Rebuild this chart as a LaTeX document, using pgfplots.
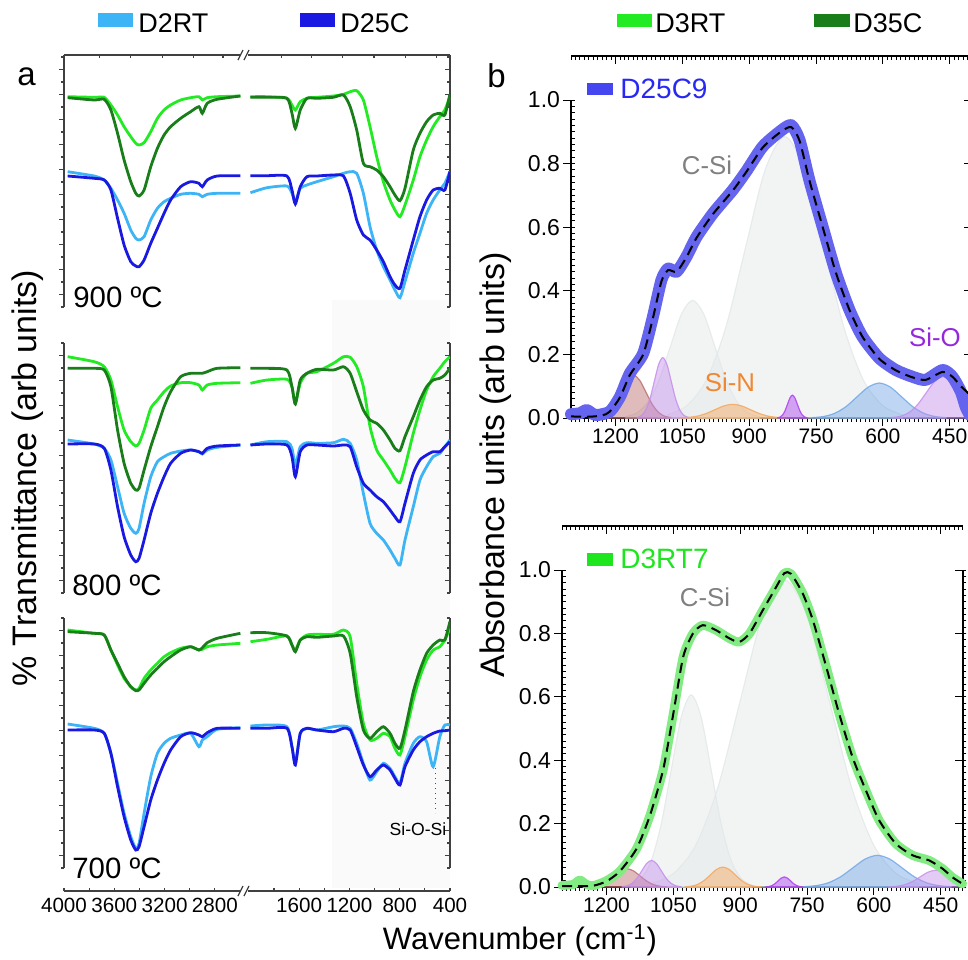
\documentclass[border=0pt]{standalone}
\usepackage{fontspec}
\setmainfont{Liberation Sans}
\usepackage{pgfplots}
\usepackage{pgfplotstable}
\pgfplotsset{compat=1.18}
\pgfplotsset{/pgf/number format/assume math mode=true, /pgf/number format/1000 sep={}}

\definecolor{cD2RT}{RGB}{60,180,245}
\definecolor{cD25C}{RGB}{25,25,225}
\definecolor{cD3RT}{RGB}{35,235,35}
\definecolor{cD35C}{RGB}{25,125,25}
\definecolor{cBandA}{RGB}{100,100,238}
\definecolor{cBandB}{RGB}{130,235,130}
\definecolor{cLegA}{RGB}{70,70,240}
\definecolor{cTxtA}{RGB}{40,40,245}
\definecolor{cLegB}{RGB}{30,230,30}
\definecolor{cBrown}{RGB}{185,105,105}
\definecolor{cPurp}{RGB}{195,140,235}
\definecolor{cGrayC}{RGB}{226,231,231}
\definecolor{cOrange}{RGB}{245,165,90}
\definecolor{cViolet}{RGB}{170,60,240}
\definecolor{cBlueC}{RGB}{110,165,230}
\definecolor{cLabOr}{RGB}{240,135,50}
\definecolor{cLabPu}{RGB}{150,40,220}

\newcommand{\tickfont}{\fontsize{10.5}{12}\selectfont}
\newcommand{\ytickfont}{\fontsize{11.5}{13}\selectfont}
\newcommand{\atickfont}{\fontsize{10.3}{12}\selectfont}
\newcommand{\bx}{\thisrow{x}>2300 ? 4000-\thisrow{x} : 3470-\thisrow{x}}

\pgfplotstableread{
x d2rt d25c d3rt d35c
3971 135.3 131.0 210.3 209.3
3760 131.0 128.7 209.7 207.0
3680 127.0 127.0 209.7 207.7
3627 118.7 117.0 202.0 197.0
3574 107.0 88.7 192.0 173.7
3522 93.7 62.0 180.3 147.0
3469 77.0 45.3 170.3 125.3
3429 68.7 41.0 163.7 113.7
3403 67.0 40.3 162.0 111.0
3363 70.3 47.0 164.3 117.0
3310 87.0 63.7 175.3 140.3
3257 98.7 78.7 188.7 158.7
3204 105.3 93.7 197.0 172.0
3152 108.7 107.0 202.0 180.3
3072 112.7 120.3 207.0 188.7
2993 113.7 125.3 209.3 195.3
2927 112.7 123.7 210.3 200.3
2900 110.3 120.3 207.0 193.7
2861 112.7 127.0 209.3 203.7
2782 113.7 131.0 210.3 207.7
2597 113.7 131.3 211.0 211.0
2300 nan nan nan nan
1987 114.3 131.3 210.3 209.7
1855 119.3 131.3 210.3 209.7
1697 121.0 131.0 208.7 208.7
1657 113.7 117.0 202.0 193.7
1630 105.3 103.0 197.0 178.7
1591 118.7 120.3 205.3 197.0
1538 122.0 130.3 208.7 208.7
1459 125.3 131.0 209.7 208.7
1327 130.3 132.0 211.0 209.7
1247 133.7 131.0 212.7 212.0
1194 135.3 113.7 215.3 200.3
1142 133.7 87.0 216.3 177.0
1089 113.7 72.0 207.0 143.7
1036 80.3 67.0 180.3 140.3
983 57.0 57.0 150.3 137.0
930 40.3 45.3 125.3 130.3
877 27.0 30.3 107.0 120.3
838 17.0 22.0 97.0 112.0
798 9.3 18.7 90.3 106.3
758 25.3 37.0 102.0 118.7
692 53.7 67.0 127.0 157.0
639 73.7 90.3 150.3 173.7
586 93.7 107.0 167.0 185.3
534 107.0 117.0 180.3 192.0
481 117.0 118.7 190.3 193.7
441 123.7 117.0 197.0 192.0
401 135.3 135.3 210.3 212.7
}\tNine

\pgfplotstableread{
x d2rt d25c d3rt d35c
3971 153.0 149.0 236.3 224.7
3760 149.0 149.0 231.3 224.7
3680 144.7 144.7 226.3 223.0
3627 133.0 123.0 213.0 206.3
3574 106.3 86.3 186.3 163.0
3522 79.7 56.3 163.0 129.7
3469 64.7 38.0 151.3 109.7
3429 59.7 31.3 147.0 103.0
3403 64.7 34.7 149.7 104.7
3363 89.7 53.0 163.0 123.0
3310 116.3 79.7 184.7 146.3
3257 131.3 99.7 193.0 166.3
3204 136.3 116.3 201.3 186.3
3152 139.7 129.7 207.0 201.3
3072 142.0 139.7 210.3 216.3
2993 143.0 143.0 210.3 219.7
2927 141.3 141.3 208.0 219.7
2900 139.0 139.7 203.0 219.7
2861 143.0 144.7 208.0 221.3
2782 145.7 147.0 209.7 224.7
2597 148.0 148.0 210.3 225.3
2300 nan nan nan nan
1987 148.0 148.0 209.7 224.7
1855 151.3 149.0 213.0 224.7
1697 151.3 148.0 213.7 223.0
1657 144.7 136.3 206.3 206.3
1630 128.0 116.3 189.7 189.0
1591 146.3 141.3 209.7 213.0
1538 150.3 148.0 219.7 219.7
1459 149.7 148.0 221.3 223.7
1327 150.3 147.0 229.7 223.0
1247 153.7 148.0 236.3 226.3
1194 149.7 146.3 235.7 219.7
1142 133.0 126.3 226.3 201.3
1089 99.7 109.7 206.3 183.0
1036 69.7 103.0 166.3 173.0
983 59.7 96.3 143.0 169.7
930 53.0 91.3 133.0 163.0
877 43.0 83.0 123.0 153.0
838 34.7 76.3 114.7 144.7
798 28.0 71.3 110.3 142.3
758 53.0 89.7 126.3 156.3
692 86.3 119.7 159.7 176.3
639 113.0 133.0 183.0 193.0
586 126.3 138.0 203.0 206.3
534 136.3 141.3 216.3 213.0
481 139.7 141.3 224.7 214.7
441 146.3 146.3 231.3 218.0
401 153.0 151.3 236.3 224.7
}\tEight

\pgfplotstableread{
x d2rt d25c d3rt d35c
3971 144.0 138.0 238.0 236.3
3760 139.7 138.0 234.7 234.7
3680 134.7 134.7 233.0 233.0
3627 114.7 114.7 218.0 218.0
3574 84.7 81.3 203.0 204.7
3522 54.7 51.3 189.7 191.3
3469 31.3 28.0 181.3 181.3
3429 19.7 18.0 178.0 177.3
3403 24.7 21.3 179.7 178.0
3363 54.7 41.3 189.7 184.7
3310 91.3 68.0 198.0 193.0
3257 114.7 88.0 204.7 199.7
3204 124.7 104.7 211.3 206.3
3152 129.7 118.0 215.3 211.3
3072 133.0 131.3 219.7 218.0
2993 134.7 135.3 221.3 221.3
2927 121.3 133.0 218.0 218.0
2900 128.0 131.3 218.7 220.3
2861 131.3 135.3 221.3 225.3
2782 138.7 139.7 223.0 229.7
2597 140.3 139.7 224.7 234.7
2300 nan nan nan nan
1987 142.0 139.7 226.3 235.3
1855 143.0 139.7 228.7 235.3
1697 141.3 139.7 232.0 232.0
1657 121.3 121.3 223.0 223.0
1630 104.7 103.0 218.0 216.3
1591 134.7 134.7 228.0 228.0
1538 139.7 139.7 233.0 231.3
1459 138.0 138.0 233.7 230.7
1327 141.3 136.3 233.7 232.0
1247 142.0 139.7 238.0 232.0
1194 139.7 138.0 231.3 214.7
1142 124.7 121.3 184.7 171.3
1089 104.7 103.0 144.7 138.0
1036 88.0 91.3 128.0 129.7
983 96.3 98.0 129.7 136.3
930 104.7 103.0 134.7 141.3
877 99.7 98.0 131.3 134.7
838 91.3 89.7 119.7 124.7
798 84.7 83.0 113.0 119.7
758 104.7 101.3 131.3 138.0
692 124.7 118.0 168.0 176.3
639 131.3 126.3 191.3 198.0
586 126.3 131.3 208.0 214.7
534 101.3 134.7 218.0 223.0
481 131.3 137.0 221.3 228.0
441 143.0 137.3 228.0 228.0
401 143.0 138.0 239.7 246.3
}\tSeven

\pgfplotsset{
  pa/.style={
    scale only axis, width=193pt, height=125pt,
    xmin=0, xmax=3070, ymin=0, ymax=250,
    axis x line=none, axis y line*=box,
    ytick={12.5,37.5,62.5,87.5,112.5,137.5,162.5,187.5,212.5,237.5},
    minor ytick={0,25,50,75,100,125,150,175,200,225,250},
    yticklabels={},
    tick align=center, major tick length=2.5pt, minor tick length=1.5pt,
    major y tick style={xshift=-1.25pt}, minor y tick style={xshift=-0.75pt},
    axis line style={black!75, line width=0.6pt},
    every tick/.append style={black!75, line width=0.6pt},
    unbounded coords=jump,
  },
  sr/.style={line width=1.4pt, smooth, tension=0.4},
  pb/.style={
    scale only axis, width=200.5pt, height=159pt,
    xmin=400, xmax=1300, x dir=reverse, ymin=0, ymax=1,
    axis x line*=bottom, axis y line*=box,
    xtick={450,600,750,900,1050,1200}, minor xtick={400,410,...,1300},
    ytick={0,0.2,0.4,0.6,0.8,1}, minor ytick={0,0.02,...,1.001},
    tick align=center, major tick length=4pt, minor tick length=1.75pt,
    major x tick style={yshift=-2pt}, minor x tick style={yshift=-0.875pt},
    major y tick style={xshift=-2pt}, minor y tick style={xshift=0.875pt},
    xticklabel style={font=\tickfont},
    yticklabel style={font=\ytickfont, /pgf/number format/.cd, fixed, fixed zerofill, precision=1},
    axis line style={black, line width=0.6pt},
    every tick/.append style={black, line width=0.5pt},
    clip=false,
  },
  pbt/.style={
    scale only axis, width=200.5pt, height=3pt,
    xmin=400, xmax=1300, x dir=reverse, ymin=0, ymax=1,
    axis x line*=top, axis y line=none,
    xtick={450,600,750,900,1050,1200}, minor xtick={400,410,...,1300},
    xticklabels={}, tick align=inside, major tick length=4pt, minor tick length=1.75pt,
    axis line style={black, line width=0.6pt},
    every tick/.append style={black, line width=0.5pt},
  },
  comp/.style={smooth, fill=#1, fill opacity=0.45, draw=#1, draw opacity=0.8, line width=0.6pt},
}

\begin{document}
\begin{tikzpicture}
\useasboundingbox (0,0) rectangle (484pt,-479.5pt);
\clip (0,0) rectangle (484pt,-479.5pt);
\begin{scope}[x=0.5pt,y=-0.5pt]
\fill[black!2] (332,300) rectangle (450,888);
\end{scope}

% ---------------- panel a ----------------
\begin{axis}[pa, at={(32pt,-153.5pt)}, anchor=south west, height=126pt, ymax=252]
\addplot[sr, cD2RT] table[x expr=\bx, y=d2rt] {\tNine};
\addplot[sr, cD25C] table[x expr=\bx, y=d25c] {\tNine};
\addplot[sr, cD3RT] table[x expr=\bx, y=d3rt] {\tNine};
\addplot[sr, cD35C] table[x expr=\bx, y=d35c] {\tNine};
\end{axis}
\begin{axis}[pa, at={(32pt,-296.5pt)}, anchor=south west]
\addplot[sr, cD2RT] table[x expr=\bx, y=d2rt] {\tEight};
\addplot[sr, cD25C] table[x expr=\bx, y=d25c] {\tEight};
\addplot[sr, cD3RT] table[x expr=\bx, y=d3rt] {\tEight};
\addplot[sr, cD35C] table[x expr=\bx, y=d35c] {\tEight};
\end{axis}
\begin{axis}[pa, at={(32pt,-434pt)}, anchor=south west]
\addplot[sr, cD2RT] table[x expr=\bx, y=d2rt] {\tSeven};
\addplot[sr, cD25C] table[x expr=\bx, y=d25c] {\tSeven};
\addplot[sr, cD3RT] table[x expr=\bx, y=d3rt] {\tSeven};
\addplot[sr, cD35C] table[x expr=\bx, y=d35c] {\tSeven};
\end{axis}
% top line of panel a
\begin{axis}[scale only axis, width=193pt, height=3pt, at={(32pt,-27.5pt)}, anchor=north west,
  xmin=0, xmax=3070, ymin=0, ymax=1, axis x line*=top, axis y line=none,
  xtick={285,530,783,1028,1265,1731,1968,2213,2466,2719,2964}, xticklabels={},
  tick align=inside, major tick length=1.5pt,
  axis line style={black!75, line width=0.6pt}, every tick/.append style={black!75, line width=0.6pt}]
\end{axis}
% bottom axis of panel a
\begin{axis}[scale only axis, width=193pt, height=3pt, at={(32pt,-445.5pt)}, anchor=south west,
  xmin=0, xmax=3070, ymin=0, ymax=1, axis x line*=bottom, axis y line=none,
  xtick={0,400,800,1200,1870,2270,2670,3070},
  xticklabels={4000,3600,3200,2800,1600,1200,800,400},
  minor xtick={200,600,1000,1670,2070,2470,2870},
  tick align=inside, major tick length=1.6pt, minor tick length=1.6pt,
  tick label style={font=\atickfont, inner xsep=0pt},
  axis line style={black!75, line width=0.6pt}, every tick/.append style={black!75, line width=0.6pt}]
\end{axis}

% ---------------- panel b top ----------------
\begin{axis}[pb, at={(285.5pt,-209pt)}, anchor=south west]
\addplot[comp=cGrayC] coordinates {(556,0.0098)(600,0.0389)(644,0.1197)(688,0.2874)(732,0.5368)(776,0.781)(820,0.885)(864,0.781)(908,0.5368)(952,0.2874)(996,0.1197)(1040,0.0389)(1084,0.0098)} \closedcycle;
\addplot[comp=cGrayC] coordinates {(877,0.0041)(902,0.0162)(927,0.0501)(952,0.1201)(977,0.2244)(1002,0.3265)(1027,0.37)(1052,0.3265)(1077,0.2244)(1102,0.1201)(1127,0.0501)(1152,0.0162)(1177,0.0041)} \closedcycle;
\addplot[comp=cBrown] coordinates {(1076,0.0015)(1090,0.0059)(1104,0.0183)(1118,0.0438)(1132,0.0819)(1146,0.1191)(1160,0.135)(1174,0.1191)(1188,0.0819)(1202,0.0438)(1216,0.0183)(1230,0.0059)(1244,0.0015)} \closedcycle;
\addplot[comp=cPurp] coordinates {(1037,0.0021)(1046.5,0.0083)(1056,0.0257)(1065.5,0.0617)(1075,0.1152)(1084.5,0.1677)(1094,0.19)(1103.5,0.1677)(1113,0.1152)(1122.5,0.0617)(1132,0.0257)(1141.5,0.0083)(1151,0.0021)} \closedcycle;
\addplot[comp=cOrange] coordinates {(817,0.0005)(837,0.0019)(857,0.0058)(877,0.014)(897,0.0261)(917,0.0379)(937,0.043)(957,0.0379)(977,0.0261)(997,0.014)(1017,0.0058)(1037,0.0019)(1057,0.0005)} \closedcycle;
\addplot[comp=cViolet] coordinates {(770,0.0008)(775.5,0.0032)(781,0.0097)(786.5,0.0234)(792,0.0437)(797.5,0.0635)(803,0.072)(808.5,0.0635)(814,0.0437)(819.5,0.0234)(825,0.0097)(830.5,0.0032)(836,0.0008)} \closedcycle;
\addplot[comp=cBlueC] coordinates {(458,0.0012)(483,0.0048)(508,0.0149)(533,0.0357)(558,0.0667)(583,0.0971)(608,0.11)(633,0.0971)(658,0.0667)(683,0.0357)(708,0.0149)(733,0.0048)(758,0.0012)} \closedcycle;
\addplot[comp=cPurp] coordinates {(400,0.030)(408,0.0422)(427,0.0788)(446,0.1147)(465,0.13)(484,0.1147)(503,0.0788)(522,0.0422)(541,0.0176)(560,0.0057)(579,0.0014)} \closedcycle;
\addplot[cBandA, line width=6pt, smooth, tension=0.4, line join=round, line cap=round] coordinates {
(1300,0.012)(1280,0.015)(1265,0.025)(1250,0.012)(1242,0.009)(1213,0.02)(1190,0.067)(1168,0.14)(1138,0.203)(1116,0.319)(1097,0.434)(1082,0.47)(1063,0.46)(1041,0.507)(1018,0.57)(981,0.644)(937,0.717)(907,0.775)(870,0.853)(832,0.90)(806,0.921)(787,0.874)(765,0.748)(735,0.60)(705,0.455)(675,0.34)(646,0.256)(608,0.188)(571,0.151)(534,0.13)(504,0.12)(466,0.151)(444,0.13)(425,0.083)(414,0.035)(405,0.01)};
\addplot[black, line width=1pt, dash pattern=on 5pt off 3pt, smooth, tension=0.4] coordinates {
(1300,0.005)(1260,0.004)(1230,0.008)(1213,0.02)(1190,0.065)(1168,0.135)(1138,0.2)(1116,0.315)(1097,0.43)(1082,0.465)(1063,0.46)(1041,0.505)(1018,0.567)(981,0.642)(937,0.715)(907,0.773)(870,0.85)(832,0.897)(806,0.915)(787,0.872)(765,0.748)(735,0.6)(705,0.455)(675,0.34)(646,0.256)(608,0.186)(571,0.15)(534,0.128)(504,0.12)(466,0.145)(444,0.13)(425,0.1)(410,0.08)(400,0.06)};
\end{axis}
\begin{axis}[pbt, at={(285.5pt,-28pt)}, anchor=north west]
\end{axis}

% ---------------- panel b bottom ----------------
\begin{axis}[pb, at={(281pt,-443.5pt)}, anchor=south west, height=158.5pt]
\addplot[comp=cGrayC] coordinates {(500,0.0107)(550,0.0425)(600,0.131)(650,0.3143)(700,0.5871)(750,0.8543)(800,0.968)(850,0.8543)(900,0.5871)(950,0.3143)(1000,0.131)(1050,0.0425)(1100,0.0107)} \closedcycle;
\addplot[comp=cGrayC] coordinates {(875,0.0067)(897.5,0.0266)(920,0.082)(942.5,0.1968)(965,0.3675)(987.5,0.5348)(1010,0.606)(1032.5,0.5348)(1055,0.3675)(1077.5,0.1968)(1100,0.082)(1122.5,0.0266)(1145,0.0067)} \closedcycle;
\addplot[comp=cBrown] coordinates {(1065,0.0006)(1080,0.0025)(1095,0.0078)(1110,0.0188)(1125,0.0352)(1140,0.0512)(1155,0.058)(1170,0.0512)(1185,0.0352)(1200,0.0188)(1215,0.0078)(1230,0.0025)(1245,0.0006)} \closedcycle;
\addplot[comp=cPurp] coordinates {(1033,0.0009)(1044,0.0037)(1055,0.0114)(1066,0.0273)(1077,0.0509)(1088,0.0741)(1099,0.084)(1110,0.0741)(1121,0.0509)(1132,0.0273)(1143,0.0114)(1154,0.0037)(1165,0.0009)} \closedcycle;
\addplot[comp=cOrange] coordinates {(855,0.0007)(869,0.0028)(883,0.0085)(897,0.0205)(911,0.0382)(925,0.0556)(939,0.063)(953,0.0556)(967,0.0382)(981,0.0205)(995,0.0085)(1009,0.0028)(1023,0.0007)} \closedcycle;
\addplot[comp=cViolet] coordinates {(759,0.0004)(766,0.0014)(773,0.0043)(780,0.0104)(787,0.0194)(794,0.0282)(801,0.032)(808,0.0282)(815,0.0194)(822,0.0104)(829,0.0043)(836,0.0014)(843,0.0004)} \closedcycle;
\addplot[comp=cBlueC] coordinates {(427,0.0011)(454.5,0.0044)(482,0.0135)(509.5,0.0325)(537,0.0607)(564.5,0.0883)(592,0.1)(619.5,0.0883)(647,0.0607)(674.5,0.0325)(702,0.0135)(729.5,0.0044)(757,0.0011)} \closedcycle;
\addplot[comp=cPurp] coordinates {(400,0.0117)(408.5,0.0172)(426,0.0321)(443.5,0.0468)(461,0.053)(478.5,0.0468)(496,0.0321)(513.5,0.0172)(531,0.0072)(548.5,0.0023)(566,0.0006)} \closedcycle;
\addplot[cBandB, line width=4.5pt, smooth, tension=0.4, line join=round, line cap=round] coordinates {
(1300,0.005)(1275,0.008)(1260,0.022)(1245,0.008)(1230,0.004)(1200,0.02)(1170,0.05)(1133,0.12)(1103,0.224)(1073,0.37)(1051,0.54)(1028,0.726)(1006,0.8)(984,0.826)(954,0.81)(924,0.784)(902,0.773)(879,0.8)(849,0.874)(819,0.947)(801,0.99)(786,0.988)(760,0.927)(737,0.842)(707,0.695)(678,0.547)(648,0.41)(618,0.305)(588,0.21)(551,0.137)(513,0.1)(476,0.084)(446,0.058)(424,0.031)(401,0.01)};
\addplot[black, line width=1pt, dash pattern=on 5pt off 3pt, smooth, tension=0.4] coordinates {
(1300,0.003)(1260,0.003)(1230,0.004)(1200,0.018)(1170,0.05)(1133,0.12)(1103,0.224)(1073,0.37)(1051,0.54)(1028,0.726)(1006,0.8)(984,0.826)(954,0.81)(924,0.784)(902,0.773)(879,0.8)(849,0.874)(819,0.947)(801,0.99)(786,0.988)(760,0.927)(737,0.842)(707,0.695)(678,0.547)(648,0.41)(618,0.305)(588,0.21)(551,0.137)(513,0.1)(476,0.084)(446,0.058)(424,0.031)(401,0.01)};
\end{axis}
\begin{axis}[pbt, at={(281pt,-263pt)}, anchor=north west]
\end{axis}

% ---------------- annotations ----------------
\begin{scope}[x=0.5pt,y=-0.5pt]
\fill[white] (241,51) rectangle (248,59);
\draw[black!75, line width=0.6pt] (238,60)--(243,50) (244,60)--(249,50);
\fill[white] (241,887) rectangle (248,895);
\draw[black!75, line width=0.6pt] (238,896)--(243,886) (244,896)--(249,886);
\fill[cD2RT] (98,13) rectangle (133,27);
\node[anchor=base west, inner sep=0, font=\fontsize{13.5}{15}\selectfont] at (138,32) {D2RT};
\fill[cD25C] (300,13) rectangle (335,27);
\node[anchor=base west, inner sep=0, font=\fontsize{13.5}{15}\selectfont] at (340,32) {D25C};
\fill[cD3RT] (617,14) rectangle (652,27);
\node[anchor=base west, inner sep=0, font=\fontsize{13.5}{15}\selectfont] at (655,32) {D3RT};
\fill[cD35C] (814,14) rectangle (850,27);
\node[anchor=base west, inner sep=0, font=\fontsize{13.5}{15}\selectfont] at (853,32) {D35C};
\node[anchor=base west, inner sep=0, font=\fontsize{16.5}{18}\selectfont] at (17,85) {a};
\node[anchor=base west, inner sep=0, font=\fontsize{16.5}{18}\selectfont] at (487,87) {b};
\node[anchor=base west, inner sep=0, font=\fontsize{14.7}{16}\selectfont] at (73,307) {900 ºC};
\node[anchor=base west, inner sep=0, font=\fontsize{14.7}{16}\selectfont] at (72,595) {800 ºC};
\node[anchor=base west, inner sep=0, font=\fontsize{14.7}{16}\selectfont] at (72,878) {700 ºC};
\draw[black!70, line width=0.5pt, dotted] (435,768)--(435,813);
\node[anchor=base, inner sep=0, font=\fontsize{8.8}{10}\selectfont] at (418,835) {Si-O-Si};
\fill[cLegA] (587,83) rectangle (613,95);
\node[anchor=base west, inner sep=0, font=\fontsize{14}{16}\selectfont, text=cTxtA] at (620,98) {D25C9};
\fill[cLegB] (587,553) rectangle (613,566);
\node[anchor=base west, inner sep=0, font=\fontsize{14}{16}\selectfont, text=cLegB] at (620,568) {D3RT7};
\node[font=\fontsize{12.9}{14}\selectfont, text=black!50] at (707,165) {C-Si};
\node[font=\fontsize{12.9}{14}\selectfont, text=cLabOr] at (730,382) {Si-N};
\node[font=\fontsize{12.9}{14}\selectfont, text=cLabPu] at (935,337) {Si-O};
\node[font=\fontsize{12.9}{14}\selectfont, text=black!50] at (705,597) {C-Si};
\node[rotate=90, font=\fontsize{17}{20}\selectfont] at (28,478) {\% Transmittance (arb units)};
\node[rotate=90, font=\fontsize{17}{20}\selectfont] at (496,465) {Absorbance units (arb units)};
\node[font=\fontsize{15.5}{18}\selectfont] at (520,940) {Wavenumber (cm\textsuperscript{-1})};
\end{scope}
\end{tikzpicture}
\end{document}
